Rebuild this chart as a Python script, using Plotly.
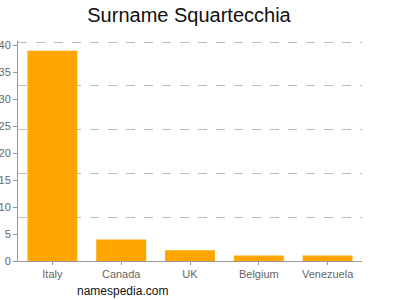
import plotly.graph_objects as go

countries = ["Italy", "Canada", "UK", "Belgium", "Venezuela"]
counts = [39, 4, 2, 1, 1]
title_text = "Surname Squartecchia"
source_text = "namespedia.com"

y_max = 40.8
grid_vals = [round(y_max * k / 5, 4) for k in range(1, 5)] + [y_max - 0.2]

fig = go.Figure()
fig.add_trace(go.Bar(x=countries, y=counts, marker=dict(color="#ffa500", line=dict(width=0)),
                     hoverinfo="skip"))
# invisible trace on secondary axis for dashed grid
fig.add_trace(go.Scatter(x=[countries[0]], y=[0], yaxis="y2", mode="markers",
                         marker=dict(opacity=0), showlegend=False, hoverinfo="skip"))

fig.update_layout(
    width=400, height=300,
    margin=dict(l=18, r=38, t=41, b=39),
    plot_bgcolor="white", paper_bgcolor="white",
    showlegend=False,
    bargap=0.275,
    font=dict(family="Liberation Sans, Arial, sans-serif", size=11, color="#666"),
    title=dict(text=title_text, x=0.4725, xanchor="center", y=0.95, yanchor="middle",
               font=dict(size=20, color="#111")),
    xaxis=dict(range=[-0.5, 4.5], showline=True, linecolor="#999", linewidth=1,
               ticks="outside", ticklen=3, tickcolor="#999", showgrid=False,
               automargin=False, tickfont=dict(size=11, color="#666")),
    yaxis=dict(range=[0, y_max], dtick=5, showline=True, linecolor="#999", linewidth=1,
               ticks="outside", ticklen=4, tickcolor="#999", showgrid=False, zeroline=False,
               automargin=False, tickfont=dict(size=11, color="#666"), ticklabelstandoff=0),
    yaxis2=dict(range=[0, y_max], overlaying="y", side="right", showticklabels=False,
                tickvals=grid_vals, ticks="", showgrid=True, gridcolor="#bbb",
                griddash="dash", gridwidth=1, zeroline=False, showline=False,
                automargin=False),
    annotations=[dict(text=source_text, xref="paper", yref="paper", x=0.166, y=-0.136,
                      xanchor="left", yanchor="middle", showarrow=False,
                      font=dict(size=12, color="#111"))],
)
fig.data[0].update(cliponaxis=False)
fig.write_html("out.html")
